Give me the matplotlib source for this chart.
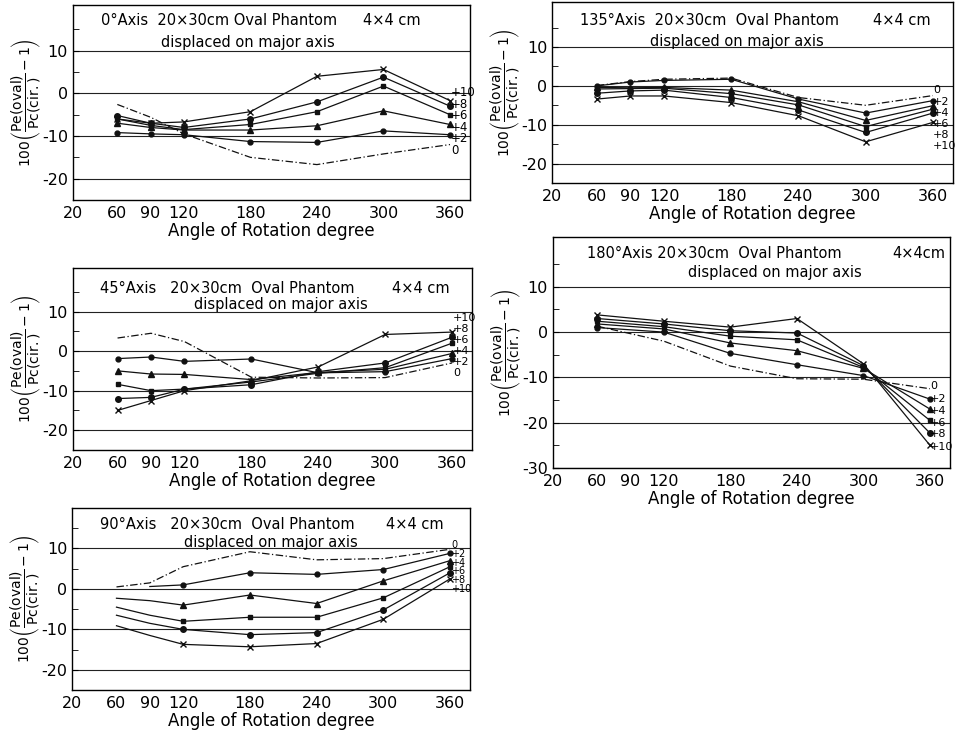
import numpy as np
import matplotlib
matplotlib.use("Agg")
import matplotlib.pyplot as plt

plt.rcParams['font.family'] = ['DejaVu Sans']

angles = [60, 90, 120, 180, 240, 300, 360]
angles_b = [60, 120, 180, 240, 300, 360]
series_names = ['0', '+2', '+4', '+6', '+8', '+10']

# 0 deg axis
ax0_vals = {
    '0':   [-2.6, -5.6, -9.5, -15.0, -16.7, -14.2, -12.0],
    '+2':  [-9.2, -9.5, -9.7, -11.3, -11.5, -8.8, -9.7],
    '+4':  [-7.0, -8.0, -8.6, -8.6, -7.6, -4.1, -7.3],
    '+6':  [-6.0, -7.5, -8.5, -7.3, -4.3, 1.7, -5.0],
    '+8':  [-5.2, -7.0, -8.0, -6.0, -2.0, 3.8, -3.0],
    '+10': [-6.0, -7.0, -6.7, -4.3, 4.0, 5.6, -1.7],
}
# 135 deg axis
ax135_vals = {
    '0':   [0.1, 1.1, 1.7, 2.0, -3.0, -5.0, -2.5],
    '+2':  [0.0, 1.0, 1.4, 1.7, -3.4, -7.0, -3.8],
    '+4':  [-0.4, -0.5, -0.4, -1.1, -4.1, -8.9, -5.1],
    '+6':  [-0.8, -0.7, -0.6, -2.0, -4.9, -10.5, -6.0],
    '+8':  [-1.9, -1.3, -1.1, -3.0, -6.2, -12.0, -7.0],
    '+10': [-3.4, -2.6, -2.6, -4.3, -7.7, -14.4, -9.4],
}
# 45 deg axis
ax45_vals = {
    '0':   [3.3, 4.5, 2.4, -6.6, -6.8, -6.7, -3.0],
    '+2':  [-1.9, -1.5, -2.6, -2.0, -5.5, -5.2, -1.9],
    '+4':  [-5.0, -5.8, -5.9, -7.2, -5.4, -4.6, -0.6],
    '+6':  [-8.4, -10.0, -9.6, -7.8, -5.6, -4.2, 2.0],
    '+8':  [-12.0, -11.7, -9.6, -8.5, -5.2, -3.0, 3.5],
    '+10': [-15.0, -12.5, -10.0, -7.5, -4.0, 4.2, 4.8],
}
# 180 deg axis
ax180_vals = {
    '0':   [1.3, -2.0, -7.5, -10.3, -10.4, -12.5],
    '+2':  [1.0, 0.0, -4.7, -7.2, -9.6, -14.8],
    '+4':  [1.8, 0.7, -2.4, -4.1, -8.0, -17.0],
    '+6':  [2.4, 1.2, -0.9, -1.7, -7.8, -19.5],
    '+8':  [3.0, 1.8, 0.3, -0.2, -7.4, -22.3],
    '+10': [3.8, 2.4, 1.1, 3.0, -7.0, -25.0],
}
# 90 deg axis
ax90_vals = {
    '0':   [0.5, 1.5, 5.5, 9.2, 7.2, 7.5, 9.8],
    '+2':  [np.nan, 0.6, 1.0, 4.0, 3.6, 4.8, 8.8],
    '+4':  [-2.3, -2.9, -4.0, -1.5, -3.6, 2.0, 7.0],
    '+6':  [-4.5, -6.5, -8.0, -7.0, -7.0, -2.2, 5.5],
    '+8':  [-6.5, -8.5, -10.0, -11.3, -10.8, -5.2, 4.0],
    '+10': [-9.1, -11.5, -13.7, -14.3, -13.5, -7.5, 2.5],
}

# right-hand label heights for the series names
lab0 = [-13.4, -10.7, -8.0, -5.3, -2.6, 0.1]
lab135 = [-1.1, -4.1, -7.0, -9.8, -12.6, -15.4]
lab45 = [-5.6, -2.8, 0.0, 2.8, 5.6, 8.4]
lab180 = [-11.8, -14.7, -17.4, -20.0, -22.6, -25.3]
lab90 = [10.8, 8.7, 6.5, 4.4, 2.3, 0.1]

xtick_vals = [20, 60, 90, 120, 180, 240, 300, 360]

styles = {
    '0':   dict(ls=(0, (6, 2, 1, 2)), marker=None),
    '+2':  dict(ls='-', marker='o', ms=3.5),
    '+4':  dict(ls='-', marker='^', ms=4),
    '+6':  dict(ls='-', marker='s', ms=3.5),
    '+8':  dict(ls='-', marker='o', ms=4),
    '+10': dict(ls='-', marker='x', ms=5, mew=1),
}

fig = plt.figure(figsize=(9.55, 7.31), dpi=100)


def panel(rect, xs, vals, labs, ylim, yticks, head, size_txt, txt_pos,
          mark_from=0, lab_size=8.5, lab_x=361):
    ax = fig.add_axes(rect)
    for yt in yticks:
        ax.axhline(yt, color='#222222', lw=0.8, zorder=1)
    for name in series_names:
        st = dict(styles[name])
        ax.plot(xs, vals[name], color='#111111', lw=0.9, markevery=slice(mark_from, None),
                zorder=3, **st)
    for name, yl in zip(series_names, labs):
        ax.text(lab_x, yl, name, fontsize=lab_size, va='center', ha='left')
    ax.set_xlim(20, 378)
    ax.set_ylim(*ylim)
    ax.set_xticks(xtick_vals)
    ax.set_xticklabels([str(v) for v in xtick_vals], fontsize=11.5)
    ax.set_yticks(yticks)
    ax.set_yticklabels([str(v) for v in yticks], fontsize=11.5)
    ax.set_yticks(np.arange(-25, 20, 5), minor=True)
    ax.tick_params(axis='y', which='both', direction='in', length=4)
    ax.tick_params(axis='x', length=0, pad=4)
    ax.set_xlabel('Angle of Rotation degree', fontsize=12, labelpad=1)
    ax.set_ylabel(r'$100\left(\dfrac{\mathrm{Pe(oval)}}{\mathrm{Pc(cir.)}}-1\right)$',
                  fontsize=10)
    ax.yaxis.set_label_coords(-0.075, 0.5)
    for sp in ax.spines.values():
        sp.set_linewidth(1.0)
    (x1, y1), (x2, y2), (x3, y3) = txt_pos
    ax.text(x1, y1, head, transform=ax.transAxes, fontsize=10.5, ha='left', va='center')
    ax.text(x2, y1, size_txt, transform=ax.transAxes, fontsize=10.5, ha='left', va='center')
    ax.text(x3, y3, 'displaced on major axis', transform=ax.transAxes, fontsize=10.5,
            ha='center', va='center')
    return ax


panel([0.0764, 0.7264, 0.4157, 0.2667], angles, ax0_vals, lab0, (-23.6, 20.7),
      [-20, -10, 0, 10], '0°Axis  20×30cm Oval Phantom', '4×4 cm',
      ((0.07, 0.92), (0.73, 0.92), (0.44, 0.81)))
panel([0.578, 0.7497, 0.42, 0.2476], angles, ax135_vals, lab135, (-20, 21.6),
      [-20, -10, 0, 10], '135°Axis  20×30cm  Oval Phantom', '4×4 cm',
      ((0.07, 0.9), (0.8, 0.9), (0.46, 0.78)), lab_size=8, lab_x=360)
panel([0.0764, 0.3844, 0.418, 0.249], angles, ax45_vals, lab45, (-20, 21),
      [-20, -10, 0, 10], '45°Axis   20×30cm  Oval Phantom', '4×4 cm',
      ((0.068, 0.89), (0.8, 0.89), (0.52, 0.8)), lab_size=8)
panel([0.579, 0.3598, 0.4157, 0.316], angles_b, ax180_vals, lab180, (-30, 21),
      [-30, -20, -10, 0, 10], '180°Axis 20×30cm  Oval Phantom', '4×4cm',
      ((0.085, 0.93), (0.855, 0.93), (0.56, 0.845)), lab_size=8, lab_x=360)
panel([0.0754, 0.056, 0.4168, 0.249], angles, ax90_vals, lab90, (-20, 20),
      [-20, -10, 0, 10], '90°Axis   20×30cm  Oval Phantom', '4×4 cm',
      ((0.07, 0.907), (0.79, 0.907), (0.5, 0.81)), mark_from=2, lab_size=7)

fig.savefig('out.png', dpi=100)
